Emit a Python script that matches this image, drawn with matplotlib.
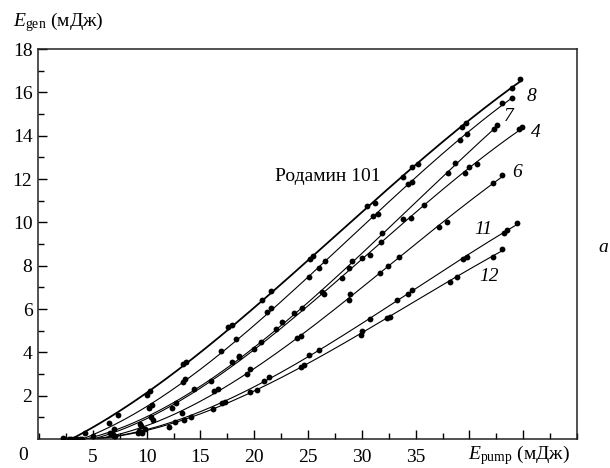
import numpy as np
import matplotlib
matplotlib.use("Agg")
import matplotlib.pyplot as plt
from matplotlib.ticker import MultipleLocator, FixedLocator

plt.rcParams['font.family'] = ['Liberation Serif', 'DejaVu Serif']
plt.rcParams['mathtext.fontset'] = 'custom'
plt.rcParams['mathtext.rm'] = 'Liberation Serif'
plt.rcParams['mathtext.it'] = 'Liberation Serif:italic'

# ---- data (E_pump, E_gen in mJ) ----
rh101_x = [2.2, 4.3, 6.5, 7.3, 10.0, 10.3, 13.4, 13.7, 17.6, 17.9, 20.7, 21.6, 25.2, 25.5,
           30.5, 31.2, 33.8, 34.7, 35.2, 39.3, 39.7, 44.0, 44.7]
rh101_y = [0.05, 0.3, 0.75, 1.1, 2.05, 2.2, 3.45, 3.55, 5.15, 5.25, 6.4, 6.85, 8.3, 8.45,
           10.75, 10.9, 12.1, 12.55, 12.7, 14.4, 14.6, 16.2, 16.6]

c8_x = [2.8, 5.0, 7.0, 10.2, 10.5, 13.4, 13.6, 16.9, 18.3, 21.2, 21.6, 25.1, 26.0, 26.6,
        31.0, 31.5, 34.3, 34.7, 39.1, 39.8, 43.0, 44.0]
c8_y = [0.0, 0.15, 0.45, 1.45, 1.55, 2.65, 2.75, 4.05, 4.6, 5.85, 6.05, 7.5, 7.9, 8.2,
        10.3, 10.4, 11.75, 11.85, 13.8, 14.1, 15.5, 15.75]

c7_x = [3.0, 6.6, 9.4, 10.4, 12.7, 14.4, 17.9, 18.6, 20.6, 22.6, 24.4, 26.3, 28.8, 29.1,
        31.9, 33.8, 38.0, 38.7, 42.3, 42.6]
c7_y = [0.0, 0.3, 0.7, 1.0, 1.65, 2.3, 3.55, 3.85, 4.5, 5.4, 6.05, 6.8, 7.9, 8.2,
        9.5, 10.15, 12.3, 12.75, 14.3, 14.5]

c4_x = [3.2, 6.8, 9.5, 10.6, 12.4, 16.0, 18.6, 19.95, 22.0, 23.7, 26.5, 28.2, 30.0, 30.8,
        31.8, 34.6, 35.8, 39.6, 40.0, 40.7, 44.6, 44.9]
c4_y = [0.0, 0.25, 0.6, 0.9, 1.45, 2.7, 3.8, 4.15, 5.1, 5.8, 6.7, 7.45, 8.35, 8.5,
        9.1, 10.2, 10.8, 12.3, 12.55, 12.7, 14.3, 14.4]

c6_x = [3.5, 6.9, 9.3, 9.8, 13.3, 16.3, 16.6, 19.3, 19.6, 24.0, 24.3, 28.8, 28.9, 31.7,
        32.4, 33.5, 37.2, 37.9, 42.2, 43.0]
c6_y = [0.0, 0.2, 0.35, 0.45, 1.2, 2.2, 2.3, 3.0, 3.25, 4.64, 4.75, 6.41, 6.69, 7.68,
        8.0, 8.4, 9.8, 10.0, 11.8, 12.2]

c11_x = [3.8, 7.0, 9.2, 12.6, 14.1, 17.0, 20.9, 21.4, 25.1, 26.0, 30.8, 33.3, 34.3, 34.7,
         39.4, 39.8, 43.2, 43.5, 44.4]
c11_y = [0.0, 0.15, 0.3, 0.8, 1.0, 1.65, 2.7, 2.86, 3.87, 4.1, 5.56, 6.41, 6.7, 6.87,
         8.3, 8.4, 9.5, 9.65, 9.98]

c12_x = [4.0, 7.1, 9.6, 12.1, 13.5, 16.2, 17.3, 19.65, 20.3, 24.3, 24.6, 29.9, 30.0, 32.3,
         32.6, 38.2, 38.8, 42.2, 43.0]
c12_y = [0.0, 0.15, 0.3, 0.57, 0.9, 1.4, 1.7, 2.17, 2.25, 3.32, 3.4, 4.79, 5.0, 5.6,
         5.63, 7.25, 7.48, 8.4, 8.77]

series = [
    (rh101_x, rh101_y, 1.3),
    (c8_x, c8_y, 0.8),
    (c7_x, c7_y, 0.8),
    (c4_x, c4_y, 0.8),
    (c6_x, c6_y, 0.8),
    (c11_x, c11_y, 0.8),
    (c12_x, c12_y, 0.8),
]

x_ticks = [5, 10, 15, 20, 25, 30, 35, 40, 45]
x_tick_labels = ['5', '10', '15', '20', '25', '30', '35', '', '']
y_ticks = [2, 4, 6, 8, 10, 12, 14, 16, 18]

W, H = 610, 468
fig = plt.figure(figsize=(W / 100, H / 100), dpi=100)
ax = fig.add_axes([38 / W, 1 - 439 / H, (577 - 38) / W, (439 - 49) / H])

for xs, ys, lw in series:
    xs = np.asarray(xs); ys = np.asarray(ys)
    p = np.polyfit(xs, ys, 3)
    xx = np.linspace(xs.min(), xs.max(), 200)
    yy = np.clip(np.polyval(p, xx), 0, None)
    ax.plot(xx, yy, color='black', lw=lw, zorder=2)
    ax.plot(xs, ys, 'o', color='black', ms=4.2, mew=0, zorder=3)

ax.set_xlim(-0.1, 50)
ax.set_ylim(0, 18)
ax.set_xticks(x_ticks)
ax.set_xticklabels(x_tick_labels)
ax.xaxis.set_minor_locator(MultipleLocator(2.5))
ax.set_yticks(y_ticks)
ax.set_yticklabels([str(v) for v in y_ticks])
ax.yaxis.set_minor_locator(FixedLocator(list(range(1, 18, 2))))
ax.tick_params(which='both', direction='in', top=False, right=False, width=1.0,
               labelsize=14, color='black')
ax.tick_params(which='major', length=6.5)
ax.tick_params(which='minor', length=4)
ax.tick_params(axis='x', pad=7)
ax.tick_params(axis='y', pad=4)
for s in ax.spines.values():
    s.set_linewidth(1.1)
    s.set_color('#222222')

# curve labels
lab_kw = dict(fontsize=14, style='italic', ha='center', va='center')
ax.text(45.8, 15.8, '8', **lab_kw)
ax.text(43.7, 14.9, '7', **lab_kw)
ax.text(46.2, 14.15, '4', **lab_kw)
ax.text(44.4, 12.3, '6', **lab_kw)
ax.text(41.3, 9.65, '11', **lab_kw)
ax.text(41.8, 7.5, '12', **lab_kw)
ax.text(26.8, 12.1, 'Родамин 101', fontsize=14, ha='center', va='center')

# axis labels and extra texts
fig.text(13 / W, 1 - 22 / H, r'$E_{\mathrm{gen}}$ (мДж)', fontsize=14, ha='left', va='center')
fig.text(570 / W, 1 - 455 / H, r'$E_{\mathrm{pump}}$ (мДж)', fontsize=14, ha='right', va='center')
fig.text(23 / W, 1 - 455 / H, '0', fontsize=14, ha='center', va='center')
fig.text(603 / W, 1 - 248 / H, 'a', fontsize=14, style='italic', ha='center', va='center')

fig.savefig('out.png', dpi=100)
